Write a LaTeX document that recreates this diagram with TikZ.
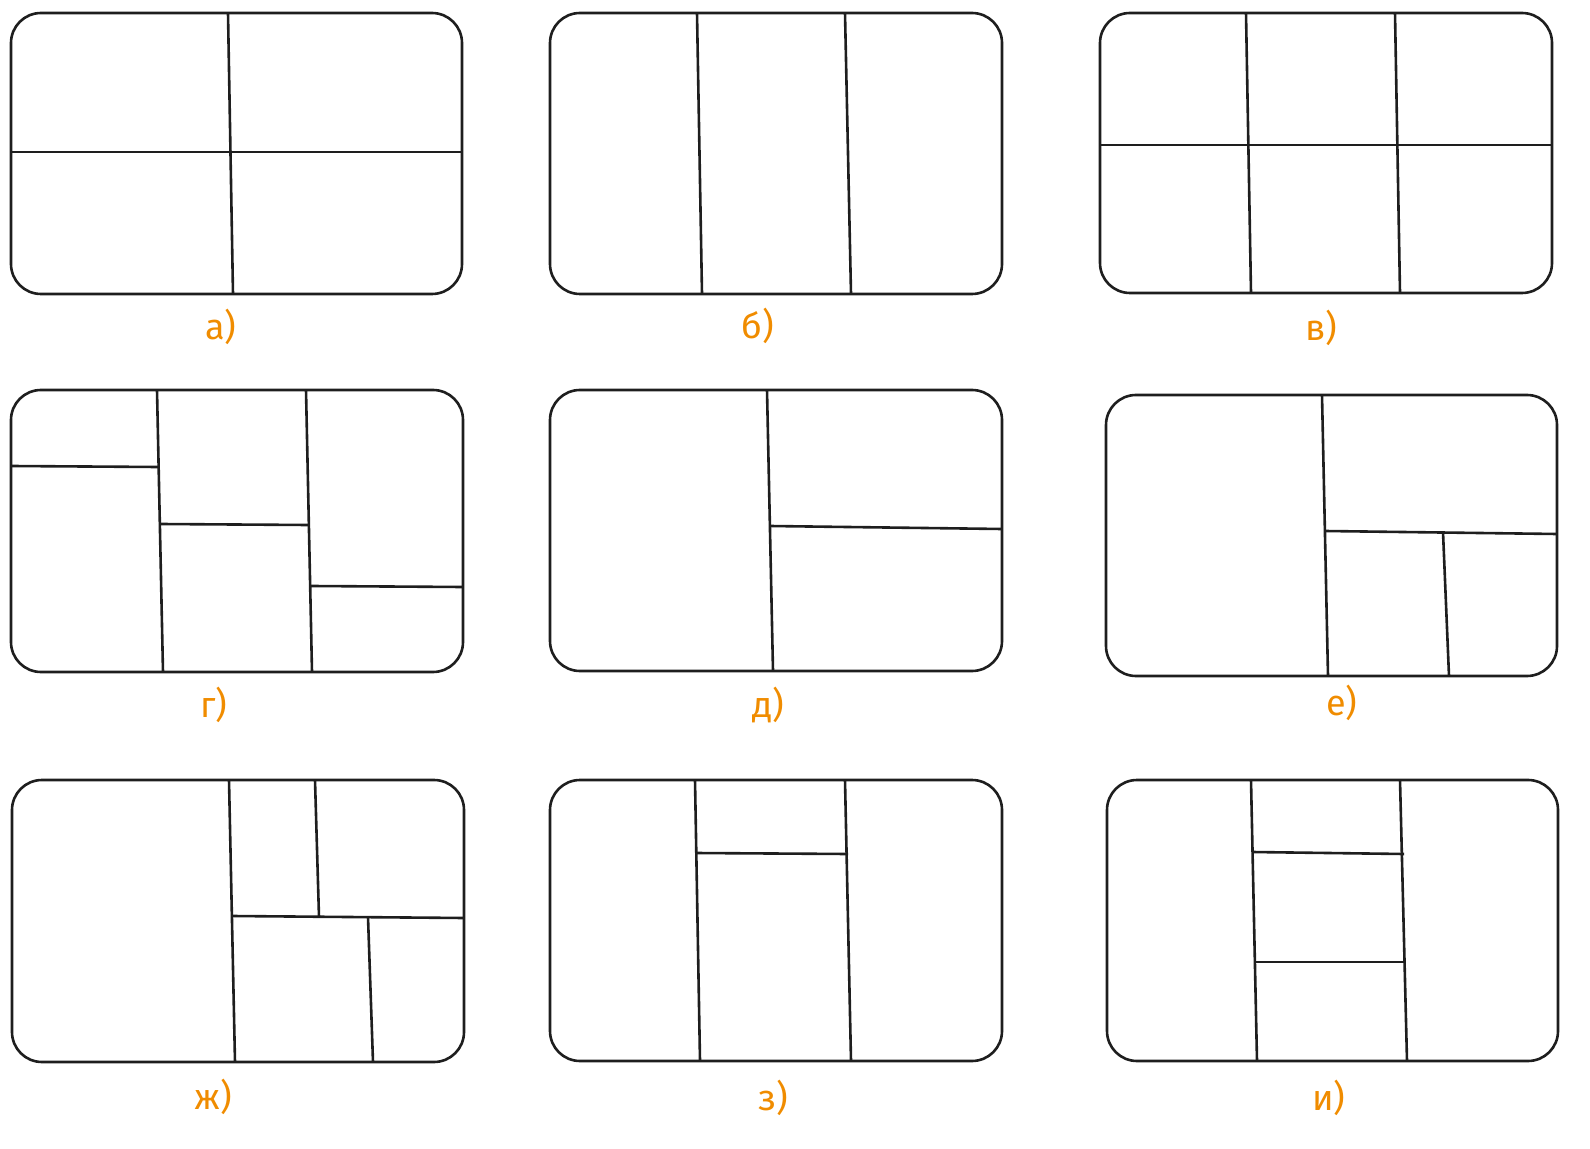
\documentclass[tikz,border=0pt]{standalone}
\usepackage{fontspec}
\newfontfamily\lblfont{Fira Sans}
\definecolor{ink}{HTML}{1E1E1E}
\definecolor{lbl}{HTML}{F08C00}
\tikzset{
  panel/.style={draw=ink, line width=1.3pt, rounded corners=15pt},
  divider/.style={draw=ink, line width=1.3pt},
  caption/.style={text=lbl, font=\lblfont\fontsize{18}{20}\selectfont, inner sep=0pt}
}
\begin{document}
\begin{tikzpicture}[x=0.5pt,y=-0.5pt]
\useasboundingbox (0,0) rectangle (1590,1149);
% a
\draw[panel] (11,13) rectangle (462,294);
\draw[divider] (228,13) -- (233,294);
\draw[divider] (11,152) -- (462,152);
\node[caption] (la) at (221,327) {а)};
% b
\draw[panel] (550,13) rectangle (1002,294);
\draw[divider] (697,13) -- (702,294);
\draw[divider] (845,13) -- (851,294);
\node[caption] (lb) at (758,326) {б)};
% v
\draw[panel] (1100,13) rectangle (1552,293);
\draw[divider] (1246,13) -- (1251,293);
\draw[divider] (1395,13) -- (1400,293);
\draw[divider] (1100,145) -- (1552,145);
\node[caption] (lv) at (1321,328) {в)};
% g
\draw[panel] (11,390) rectangle (463,672);
\draw[divider] (157,390) -- (163,672);
\draw[divider] (306,390) -- (312,672);
\draw[divider] (11,466) -- (158,467);
\draw[divider] (160,524) -- (308,525);
\draw[divider] (311,586) -- (463,587);
\node[caption] (lg) at (214,705) {г)};
% d
\draw[panel] (550,390) rectangle (1002,671);
\draw[divider] (767,390) -- (773,671);
\draw[divider] (770,526) -- (1002,529);
\node[caption] (ld) at (768,705) {д)};
% e
\draw[panel] (1106,395) rectangle (1557,676);
\draw[divider] (1322,395) -- (1328,676);
\draw[divider] (1325,531) -- (1557,534);
\draw[divider] (1443,532) -- (1449,676);
\node[caption] (le) at (1342,703) {е)};
% zh
\draw[panel] (12,780) rectangle (464,1062);
\draw[divider] (229,780) -- (235,1062);
\draw[divider] (315,780) -- (319,917);
\draw[divider] (232,916) -- (464,918);
\draw[divider] (368,917) -- (373,1062);
\node[caption] (lzh) at (213,1097) {ж)};
% z
\draw[panel] (550,780) rectangle (1002,1061);
\draw[divider] (695,780) -- (700,1061);
\draw[divider] (845,780) -- (851,1061);
\draw[divider] (695,853) -- (848,854);
\node[caption] (lz) at (773,1098) {з)};
% i
\draw[panel] (1107,780) rectangle (1558,1061);
\draw[divider] (1251,780) -- (1257,1061);
\draw[divider] (1400,780) -- (1407,1061);
\draw[divider] (1252,852) -- (1404,854);
\draw[divider] (1254,962) -- (1405,962);
\node[caption] (li) at (1329,1098) {и)};
\end{tikzpicture}
\end{document}
